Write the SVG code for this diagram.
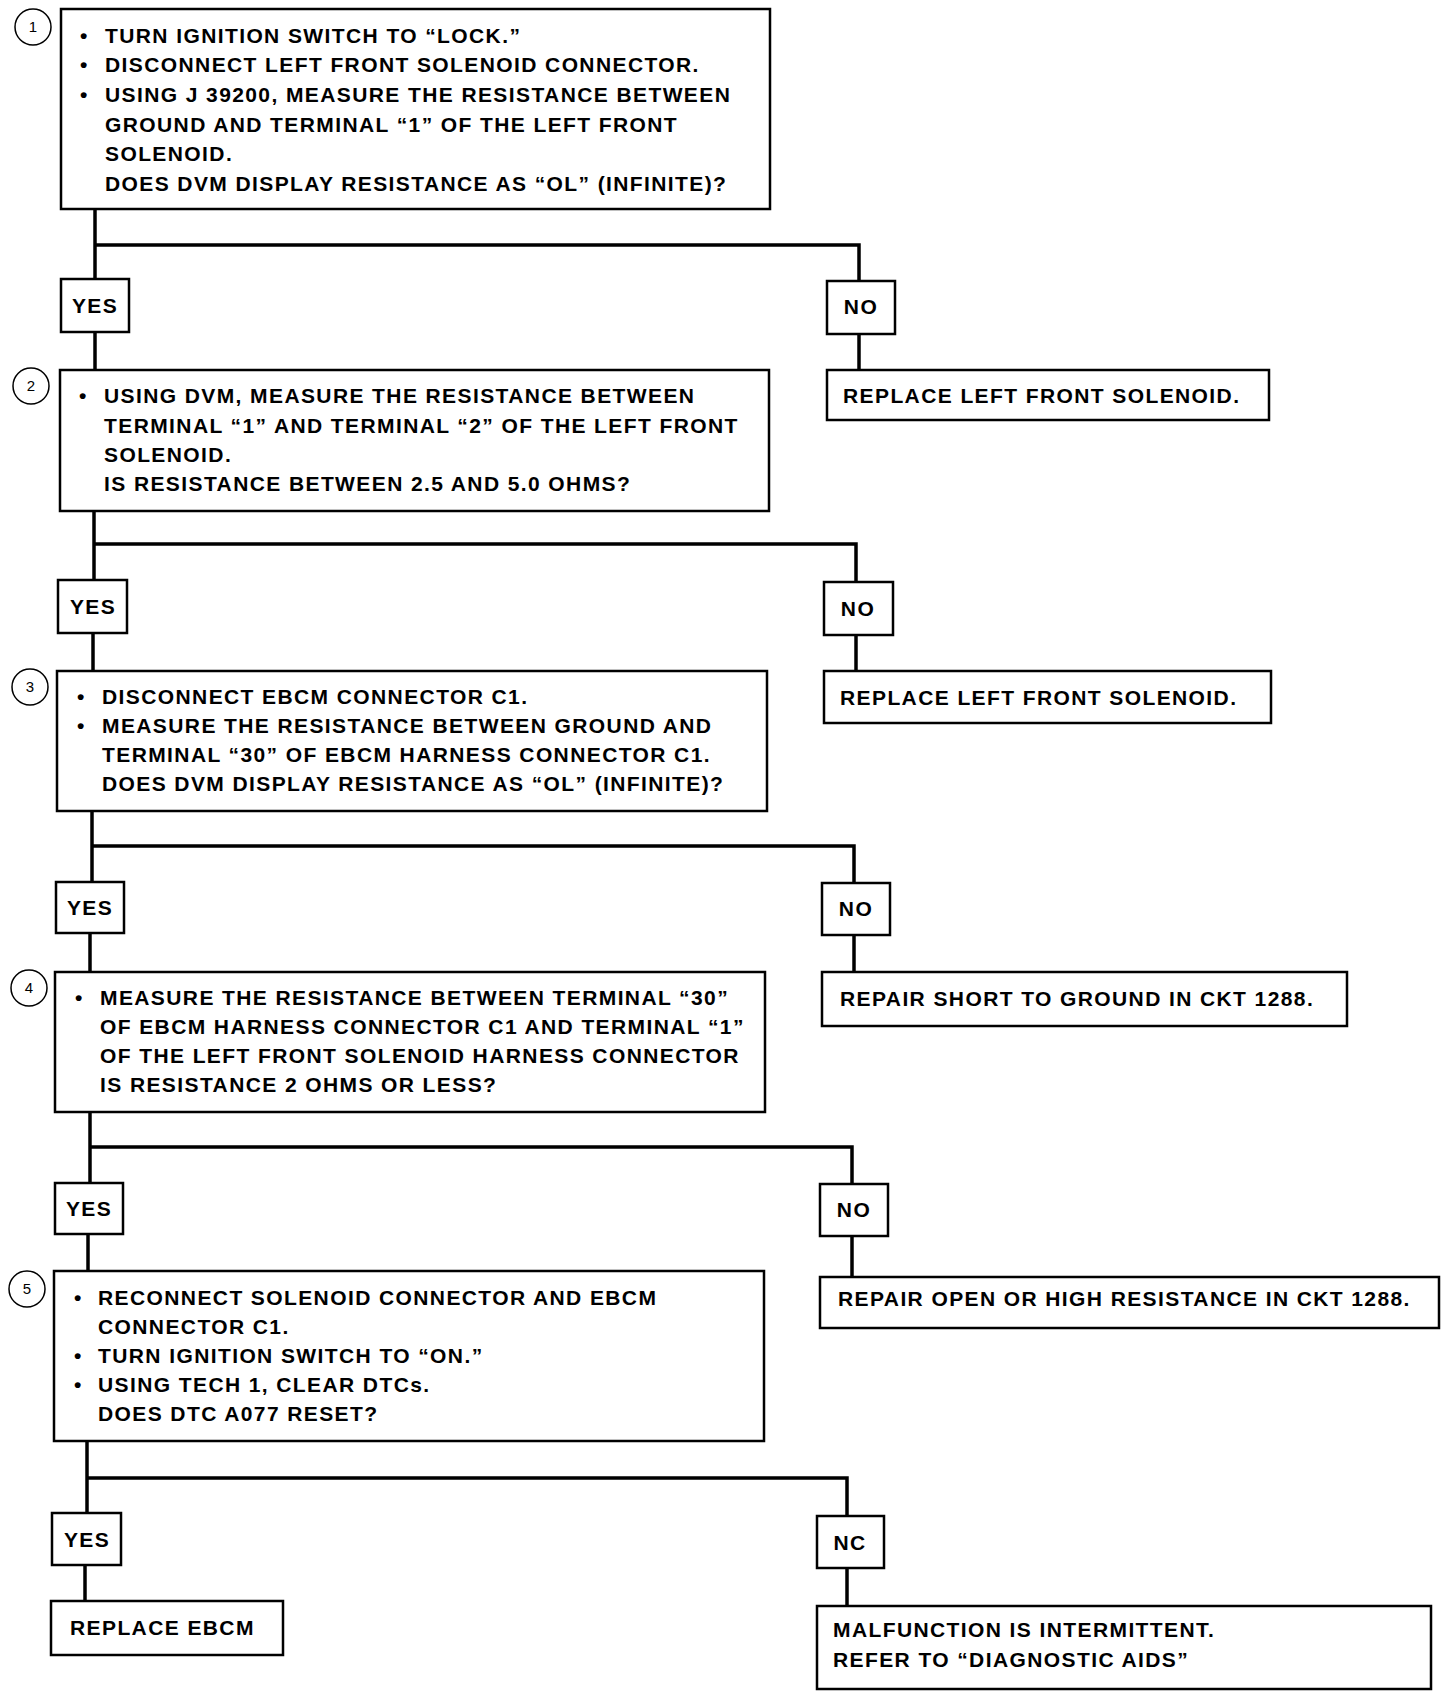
<svg xmlns="http://www.w3.org/2000/svg" width="1456" height="1698" viewBox="0 0 1456 1698">
<style>
.box{fill:#fff;stroke:#000;stroke-width:2.5}
.lbl{fill:#fff;stroke:#000;stroke-width:2.5}
.num{fill:#fff;stroke:#000;stroke-width:1.5}
.t{font-family:"Liberation Sans",Arial,sans-serif;font-weight:bold;font-size:21px;letter-spacing:1.4px;fill:#000}
.c{text-anchor:middle}
.n{font-family:"Liberation Sans",Arial,sans-serif;font-size:15px;fill:#000;text-anchor:middle}
.ln{fill:none;stroke:#000;stroke-width:3.5}
</style>
<rect width="1456" height="1698" fill="#fff"/>
<g id="connectors">
<polyline class="ln" points="95,209 95,279"/>
<polyline class="ln" points="95,245 859,245 859,281"/>
<polyline class="ln" points="95,332 95,370"/>
<polyline class="ln" points="859,334 859,370"/>
<polyline class="ln" points="94,511 94,580"/>
<polyline class="ln" points="94,544 856,544 856,582"/>
<polyline class="ln" points="93,633 93,671"/>
<polyline class="ln" points="856,635 856,671"/>
<polyline class="ln" points="92,811 92,882"/>
<polyline class="ln" points="92,846 854,846 854,883"/>
<polyline class="ln" points="90,933 90,972"/>
<polyline class="ln" points="854,935 854,972"/>
<polyline class="ln" points="90,1112 90,1183"/>
<polyline class="ln" points="90,1147 852,1147 852,1184"/>
<polyline class="ln" points="88,1234 88,1271"/>
<polyline class="ln" points="852,1236 852,1277"/>
<polyline class="ln" points="87,1441 87,1513"/>
<polyline class="ln" points="87,1478 847,1478 847,1516"/>
<polyline class="ln" points="85,1565 85,1601"/>
<polyline class="ln" points="847,1568 847,1606"/>
</g>
<g id="step1">
<circle class="num" cx="33" cy="27" r="18"/><text class="n" x="33" y="32">1</text>
<rect class="box" x="61" y="9" width="709" height="200"/>
<text class="t" x="80" y="43">•</text><text class="t" x="105" y="43">TURN IGNITION SWITCH TO “LOCK.”</text>
<text class="t" x="80" y="72">•</text><text class="t" x="105" y="72">DISCONNECT LEFT FRONT SOLENOID CONNECTOR.</text>
<text class="t" x="80" y="102">•</text><text class="t" x="105" y="102">USING J 39200, MEASURE THE RESISTANCE BETWEEN</text>
<text class="t" x="105" y="132">GROUND AND TERMINAL “1” OF THE LEFT FRONT</text>
<text class="t" x="105" y="161">SOLENOID.</text>
<text class="t" x="105" y="191">DOES DVM DISPLAY RESISTANCE AS “OL” (INFINITE)?</text>
</g>
<g id="yes1"><rect class="lbl" x="61" y="279" width="68" height="53"/><text class="t c" x="95" y="313">YES</text></g>
<g id="no1"><rect class="lbl" x="827" y="281" width="68" height="53"/><text class="t c" x="861" y="314">NO</text></g>
<g id="result1"><rect class="box" x="827" y="370" width="442" height="50"/><text class="t" x="843" y="403">REPLACE LEFT FRONT SOLENOID.</text></g>
<g id="step2">
<circle class="num" cx="31" cy="386" r="18"/><text class="n" x="31" y="391">2</text>
<rect class="box" x="60" y="370" width="709" height="141"/>
<text class="t" x="79" y="403">•</text><text class="t" x="104" y="403">USING DVM, MEASURE THE RESISTANCE BETWEEN</text>
<text class="t" x="104" y="433">TERMINAL “1” AND TERMINAL “2” OF THE LEFT FRONT</text>
<text class="t" x="104" y="462">SOLENOID.</text>
<text class="t" x="104" y="491">IS RESISTANCE BETWEEN 2.5 AND 5.0 OHMS?</text>
</g>
<g id="yes2"><rect class="lbl" x="58" y="580" width="69" height="53"/><text class="t c" x="93" y="614">YES</text></g>
<g id="no2"><rect class="lbl" x="824" y="582" width="69" height="53"/><text class="t c" x="858" y="616">NO</text></g>
<g id="result2"><rect class="box" x="824" y="671" width="447" height="52"/><text class="t" x="840" y="705">REPLACE LEFT FRONT SOLENOID.</text></g>
<g id="step3">
<circle class="num" cx="30" cy="687" r="18"/><text class="n" x="30" y="692">3</text>
<rect class="box" x="57" y="671" width="710" height="140"/>
<text class="t" x="77" y="704">•</text><text class="t" x="102" y="704">DISCONNECT EBCM CONNECTOR C1.</text>
<text class="t" x="77" y="733">•</text><text class="t" x="102" y="733">MEASURE THE RESISTANCE BETWEEN GROUND AND</text>
<text class="t" x="102" y="762">TERMINAL “30” OF EBCM HARNESS CONNECTOR C1.</text>
<text class="t" x="102" y="791">DOES DVM DISPLAY RESISTANCE AS “OL” (INFINITE)?</text>
</g>
<g id="yes3"><rect class="lbl" x="56" y="882" width="68" height="51"/><text class="t c" x="90" y="915">YES</text></g>
<g id="no3"><rect class="lbl" x="822" y="883" width="68" height="52"/><text class="t c" x="856" y="916">NO</text></g>
<g id="result3"><rect class="box" x="822" y="972" width="525" height="54"/><text class="t" x="840" y="1006">REPAIR SHORT TO GROUND IN CKT 1288.</text></g>
<g id="step4">
<circle class="num" cx="29" cy="988" r="18"/><text class="n" x="29" y="993">4</text>
<rect class="box" x="55" y="972" width="710" height="140"/>
<text class="t" x="75" y="1005">•</text><text class="t" x="100" y="1005">MEASURE THE RESISTANCE BETWEEN TERMINAL “30”</text>
<text class="t" x="100" y="1034">OF EBCM HARNESS CONNECTOR C1 AND TERMINAL “1”</text>
<text class="t" x="100" y="1063">OF THE LEFT FRONT SOLENOID HARNESS CONNECTOR</text>
<text class="t" x="100" y="1092">IS RESISTANCE 2 OHMS OR LESS?</text>
</g>
<g id="yes4"><rect class="lbl" x="55" y="1183" width="68" height="51"/><text class="t c" x="89" y="1216">YES</text></g>
<g id="no4"><rect class="lbl" x="820" y="1184" width="68" height="52"/><text class="t c" x="854" y="1217">NO</text></g>
<g id="result4"><rect class="box" x="820" y="1277" width="619" height="51"/><text class="t" x="838" y="1306">REPAIR OPEN OR HIGH RESISTANCE IN CKT 1288.</text></g>
<g id="step5">
<circle class="num" cx="27" cy="1289" r="18"/><text class="n" x="27" y="1294">5</text>
<rect class="box" x="54" y="1271" width="710" height="170"/>
<text class="t" x="74" y="1305">•</text><text class="t" x="98" y="1305">RECONNECT SOLENOID CONNECTOR AND EBCM</text>
<text class="t" x="98" y="1334">CONNECTOR C1.</text>
<text class="t" x="74" y="1363">•</text><text class="t" x="98" y="1363">TURN IGNITION SWITCH TO “ON.”</text>
<text class="t" x="74" y="1392">•</text><text class="t" x="98" y="1392">USING TECH 1, CLEAR DTCs.</text>
<text class="t" x="98" y="1421">DOES DTC A077 RESET?</text>
</g>
<g id="yes5"><rect class="lbl" x="52" y="1513" width="69" height="52"/><text class="t c" x="87" y="1547">YES</text></g>
<g id="no5"><rect class="lbl" x="817" y="1516" width="67" height="52"/><text class="t c" x="850" y="1550">NC</text></g>
<g id="result5"><rect class="box" x="51" y="1601" width="232" height="54"/><text class="t" x="70" y="1635">REPLACE EBCM</text></g>
<g id="result6"><rect class="box" x="817" y="1606" width="614" height="83"/>
<text class="t" x="833" y="1637">MALFUNCTION IS INTERMITTENT.</text>
<text class="t" x="833" y="1667">REFER TO “DIAGNOSTIC AIDS”</text></g>
</svg>
